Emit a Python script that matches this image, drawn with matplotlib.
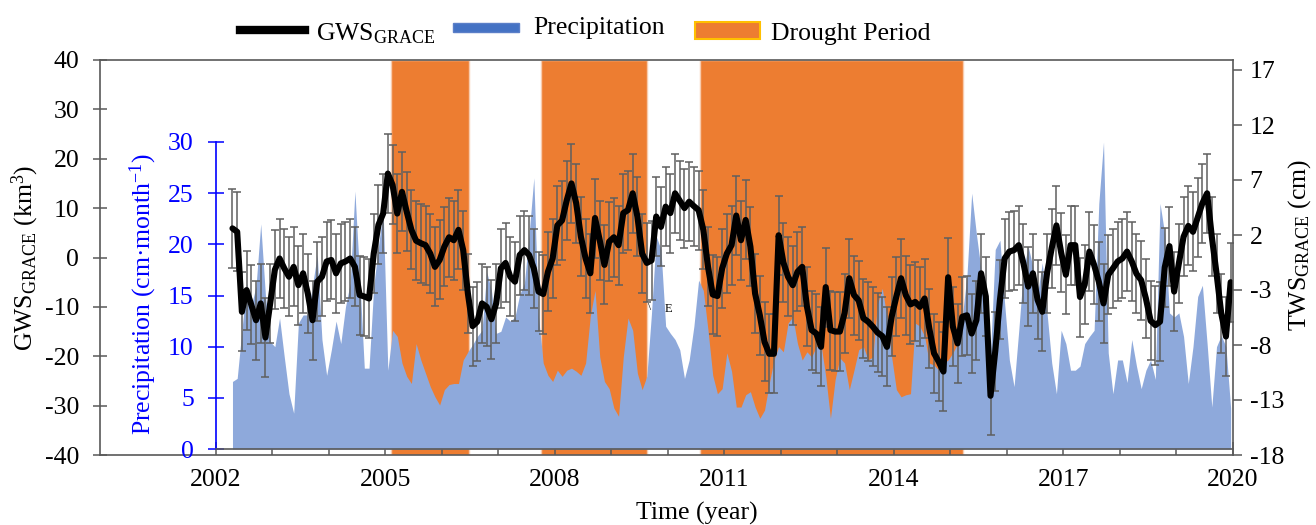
import numpy as np
import matplotlib.pyplot as plt
from matplotlib.lines import Line2D
from matplotlib.patches import Rectangle

plt.rcParams['font.family'] = ['Liberation Serif', 'DejaVu Serif']
plt.rcParams['mathtext.fontset'] = 'custom'
plt.rcParams['mathtext.rm'] = 'Liberation Serif'
plt.rcParams['mathtext.it'] = 'Liberation Serif:italic'
plt.rcParams['axes.unicode_minus'] = False

# ── Data (monthly, Apr 2002 – Dec 2019) ──────────────────────────────────────
START_YEAR, START_MONTH = 2002, 4

gws = [
    5.9, 5.2, -11.0, -6.6, -9.6, -12.7, -9.3, -16.2, -9.3,                  # 2002
    -2.5, -0.2, -2.2, -3.9, -1.9, -5.6, -3.2, -7.3, -12.7, -4.9, -3.9, -0.8,  # 2003
    -0.5, -3.2, -1.2, -0.8, -0.2, -1.9, -7.6, -7.9, -8.3, 0.8, 6.6, 8.9,      # 2004
    17.0, 14.7, 8.9, 13.3, 9.3, 5.6, 3.4, 2.9, 2.5, 0.8, -1.9, -0.5,          # 2005
    2.2, 4.1, 3.5, 5.6, 1.5, -7.3, -13.9, -13.0, -9.3, -10.0, -12.5, -9.3,    # 2006
    -2.2, -1.1, -3.9, -4.9, 0.5, 1.5, 0.5, -2.2, -6.9, -7.4, -2.9, -0.2,      # 2007
    6.5, 7.5, 11.6, 15.0, 11.0, 4.2, -0.2, -3.2, 8.0, 3.5, -1.5, 3.2,         # 2008
    4.1, 2.5, 9.0, 9.6, 13.0, 8.3, 0.8, -1.1, -0.6, 8.3, 6.2, 10.3,           # 2009
    9.0, 13.0, 11.5, 10.0, 11.3, 10.4, 9.6, 5.6, -1.9, -7.5, -7.8, -2.2,      # 2010
    0.8, 2.5, 8.5, 3.5, 7.6, 2.2, -7.3, -11.7, -17.1, -19.5, -19.5, 4.5,      # 2011
    -1.0, -3.9, -5.6, -2.9, -1.9, -9.9, -14.7, -15.4, -18.1, -6.0, -14.7, -15.0,   # 2012
    -15.0, -11.3, -4.2, -7.6, -8.7, -12.3, -13.0, -14.0, -15.2, -15.9, -18.1, -12.0,  # 2013
    -7.9, -4.2, -7.6, -9.5, -9.0, -10.0, -8.3, -14.4, -19.4, -21.1, -23.1, -4.0,   # 2014
    -14.0, -17.4, -12.0, -11.7, -15.4, -12.7, -3.2, -7.9, -28.0, -19.0, -8.6, -0.2,  # 2015
    1.2, 1.5, 2.5, -1.2, -5.9, -3.2, -8.6, -11.0, -3.2, 1.9, 6.5, 1.0,        # 2016
    -3.5, 2.5, 2.5, -8.0, -5.5, 1.2, -1.5, -4.9, -9.3, -3.5, -2.2, -0.8,      # 2017
    -0.2, 1.2, -0.8, -3.3, -4.6, -8.3, -12.8, -13.7, -13.0, -2.0, 2.3, -6.9,  # 2018
    -1.2, 4.2, 6.4, 5.2, 8.1, 11.0, 13.0, 4.2, -3.2, -11.3, -16.0, -5.0,      # 2019
]
gws_err = 8.0

precip = [
    6.6, 6.9, 11.6, 16.2, 14.0, 15.9, 22.0, 15.0, 10.5,                      # 2002
    10.0, 12.8, 9.0, 5.4, 3.5, 12.3, 13.1, 13.1, 16.0, 19.0, 10.7, 7.2,       # 2003
    9.7, 12.5, 10.3, 13.9, 16.2, 25.2, 16.9, 7.9, 7.9, 15.9, 19.8, 23.4,      # 2004
    7.7, 11.6, 11.0, 8.4, 7.1, 6.4, 10.3, 8.7, 7.4, 6.1, 5.1, 4.3,            # 2005
    5.8, 6.3, 6.4, 6.4, 8.7, 9.5, 10.2, 11.0, 11.6, 17.3, 15.5, 11.3,         # 2006
    11.5, 12.9, 12.5, 12.9, 15.1, 16.2, 21.0, 26.5, 12.9, 8.4, 7.2, 6.6,      # 2007
    7.7, 7.1, 7.7, 7.9, 7.6, 7.2, 8.4, 13.0, 15.5, 9.0, 6.6, 5.9,             # 2008
    4.0, 3.2, 9.0, 12.8, 11.6, 7.4, 5.8, 7.1, 13.3, 20.8, 19.5, 12.0,         # 2009
    11.3, 10.7, 9.7, 6.9, 8.7, 12.0, 16.5, 15.5, 11.6, 7.2, 5.4, 5.9,         # 2010
    9.4, 7.6, 4.1, 4.1, 5.3, 5.6, 4.1, 3.0, 3.8, 6.4, 8.7, 10.0,              # 2011
    9.5, 12.3, 12.9, 10.3, 8.7, 9.5, 9.0, 10.0, 10.2, 7.1, 3.0, 6.8,          # 2012
    8.9, 8.4, 5.8, 7.7, 9.7, 10.0, 8.7, 9.0, 14.2, 15.7, 12.9, 9.0,           # 2013
    5.8, 5.1, 5.3, 5.4, 12.3, 12.0, 11.0, 8.4, 8.2, 7.7, 8.4, 8.7,            # 2014
    9.4, 10.3, 12.9, 17.0, 25.0, 21.0, 17.5, 11.6, 9.4, 19.5, 20.4, 14.2,     # 2015
    8.7, 6.1, 11.6, 17.5, 19.8, 17.8, 15.2, 18.2, 13.3, 8.4, 5.4, 11.6,       # 2016
    10.3, 7.7, 7.7, 8.1, 10.3, 11.0, 11.6, 24.0, 30.0, 9.4, 5.4, 8.7,         # 2017
    8.7, 6.5, 10.7, 8.1, 5.9, 7.7, 8.7, 6.8, 24.0, 21.0, 13.3, 12.9,          # 2018
    13.3, 11.0, 6.4, 10.0, 14.9, 16.0, 10.3, 4.1, 10.0, 11.1, 10.0, 4.0,      # 2019
]

drought_start = [2005.10, 2007.75, 2010.57]
drought_end = [2006.48, 2009.63, 2015.22]

year_ticks = list(range(2002, 2021))
year_labels = [str(y) if (y - 2002) % 3 == 0 else '' for y in year_ticks]
gws_ticks = list(range(-40, 41, 10))
tws_ticks = [-18, -13, -8, -3, 2, 7, 12, 17]
precip_ticks = list(range(0, 31, 5))

t = START_YEAR + (START_MONTH - 0.5 + np.arange(len(gws))) / 12

# ── Palette ──────────────────────────────────────────────────────────────────
C_ORANGE = '#ED7D31'
C_PRECIP = '#8EA9DB'
C_AXIS = '#595959'
C_ERR = '#5F5F5F'
FS = 18.5

W_PX, H_PX = 1316, 525
fig = plt.figure(figsize=(W_PX / 100, H_PX / 100), dpi=100)

def rect(x0, y0, x1, y1):
    # pixel box (top-left origin) -> figure fraction
    return [x0 / W_PX, 1 - y1 / H_PX, (x1 - x0) / W_PX, (y1 - y0) / H_PX]

OUTER = rect(100, 60, 1233, 455)
INNER = rect(216, 142, 1233, 449)
XMIN = 2002 - (216 - 100) / ((1233 - 216) / 18)

# ── Base axes: drought periods, GWS axis, time axis ─────────────────────────
ax = fig.add_axes(OUTER, zorder=1)
for s, e in zip(drought_start, drought_end):
    ax.axvspan(s, e, facecolor=C_ORANGE, edgecolor='#F8CBAD', lw=1.0)
ax.set_xlim(XMIN, 2020)
ax.set_ylim(-40, 40)
ax.set_yticks(gws_ticks)
ax.set_xticks(year_ticks)
ax.set_xticklabels(year_labels)
ax.tick_params(axis='y', direction='inout', length=10, width=1.1, color=C_AXIS,
               labelsize=FS, pad=10)
ax.tick_params(axis='x', direction='in', length=9.4, width=1.1, color=C_AXIS,
               labelsize=FS, pad=10)
for side in ['left', 'top', 'bottom']:
    ax.spines[side].set_color(C_AXIS)
    ax.spines[side].set_linewidth(1.2)
ax.spines['right'].set_visible(False)

# ── Inner precipitation axes ────────────────────────────────────────────────
axp = fig.add_axes(INNER, zorder=2)
axp.patch.set_visible(False)
axp.fill_between(t, 0, precip, color=C_PRECIP, lw=0)
axp.set_xlim(2002, 2020)
axp.set_ylim(0, 30)
axp.set_yticks(precip_ticks)
axp.set_xticks([])
axp.tick_params(axis='y', direction='inout', length=11, width=1.1, color='blue',
                labelcolor='blue', labelsize=FS, pad=10.5)
axp.spines['left'].set_color('blue')
axp.spines['left'].set_linewidth(1.2)
axp.spines['bottom'].set_color(C_AXIS)
axp.spines['bottom'].set_linewidth(1.2)
axp.spines['top'].set_visible(False)
axp.spines['right'].set_visible(False)

# ── GWS line with error bars ────────────────────────────────────────────────
axl = fig.add_axes(OUTER, zorder=3)
axl.patch.set_visible(False)
axl.errorbar(t, gws, yerr=gws_err, fmt='none', ecolor=C_ERR, elinewidth=1.1,
             capsize=2.8, capthick=1.1, zorder=2)
axl.plot(t, gws, color='black', lw=4.4, solid_joinstyle='round',
         solid_capstyle='round', zorder=3)
axl.set_xlim(XMIN, 2020)
axl.set_ylim(-40, 40)
axl.axis('off')

# ── Right TWS axis ──────────────────────────────────────────────────────────
axr = fig.add_axes(OUTER, zorder=4)
axr.patch.set_visible(False)
axr.set_ylim(-18, -18 + 395 / 11)
axr.set_yticks(tws_ticks)
axr.set_xticks([])
axr.yaxis.tick_right()
axr.tick_params(axis='y', direction='out', length=6.5, width=1.1, color=C_AXIS,
                labelsize=FS, pad=5.5)
for side in ['left', 'top', 'bottom']:
    axr.spines[side].set_visible(False)
axr.spines['right'].set_color(C_AXIS)
axr.spines['right'].set_linewidth(1.2)

# ── Axis titles ─────────────────────────────────────────────────────────────
fig.text(25 / W_PX, 1 - 258 / H_PX, r'GWS$_{\mathrm{GRACE}}$ (km$^{3}$)',
         rotation=90, ha='center', va='center', fontsize=FS)
fig.text(143 / W_PX, 1 - 294 / H_PX, r'Precipitation (cm·month$^{-1}$)',
         rotation=90, ha='center', va='center', fontsize=FS, color='blue')
fig.text(1300 / W_PX, 1 - 245 / H_PX, r'TWS$_{\mathrm{GRACE}}$ (cm)',
         rotation=90, ha='center', va='center', fontsize=FS)
fig.text(697 / W_PX, 1 - 513 / H_PX, 'Time (year)', ha='center', va='center',
         fontsize=FS)
fig.text(650 / W_PX, 1 - 308 / H_PX, '\\', ha='center', va='center', fontsize=8)
fig.text(668 / W_PX, 1 - 309 / H_PX, 'E', ha='center', va='center', fontsize=9)

# ── Legend (drawn in figure pixels) ─────────────────────────────────────────
def fx(px):
    return px / W_PX

def fy(py):
    return 1 - py / H_PX

fig.add_artist(Line2D([fx(240), fx(305)], [fy(30), fy(30)], color='black',
                      lw=6, transform=fig.transFigure))
fig.text(fx(316), fy(40), r'GWS$_{\mathrm{GRACE}}$', fontsize=FS, va='baseline')
fig.add_artist(Rectangle((fx(453), fy(32)), fx(519) - fx(453), fy(23) - fy(32),
                         facecolor='#4472C4', edgecolor='#5B7FC8', lw=1,
                         transform=fig.transFigure))
fig.text(fx(533), fy(34), 'Precipitation', fontsize=FS, va='baseline')
fig.add_artist(Rectangle((fx(695), fy(39)), fx(760) - fx(695), fy(22) - fy(39),
                         facecolor=C_ORANGE, edgecolor='#FFC000', lw=1.5,
                         transform=fig.transFigure))
fig.text(fx(771), fy(40), 'Drought Period', fontsize=FS, va='baseline')

fig.savefig('out.png', dpi=100, facecolor='white')
